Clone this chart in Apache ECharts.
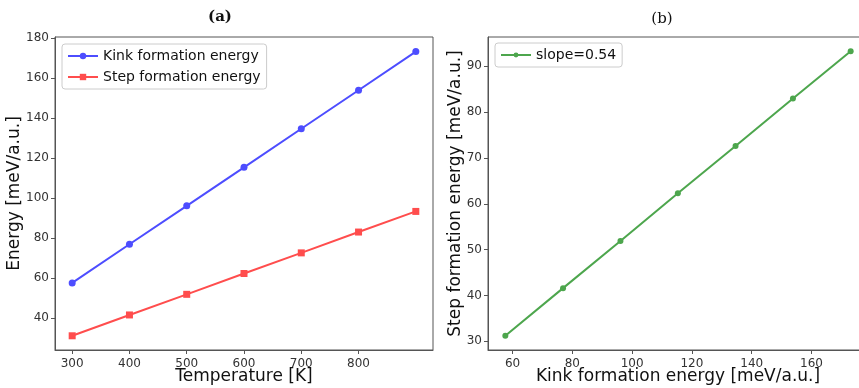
<!DOCTYPE html>
<html><head><meta charset="utf-8">
<script src="https://cdn.jsdelivr.net/npm/echarts@6/dist/echarts.min.js"></script>
<style>html,body{margin:0;padding:0;background:#fff}#c{width:859px;height:388px}</style>
</head><body><div id="c"></div>
<script>
const temperatures = [300, 400, 500, 600, 700, 800, 900];
const kinkEnergy = [57.6, 76.9, 96.1, 115.3, 134.6, 153.8, 173.1];
const stepEnergy = [31.2, 41.6, 51.9, 62.3, 72.6, 83.0, 93.3];
const leftXTicks = [300, 400, 500, 600, 700, 800];
const leftYTicks = [40, 60, 80, 100, 120, 140, 160, 180];
const rightXTicks = [60, 80, 100, 120, 140, 160];
const rightYTicks = [30, 40, 50, 60, 70, 80, 90];

const blue = 'rgb(77,77,255)', red = 'rgb(255,77,77)', green = 'rgb(77,166,77)';
const frame = '#555';
const tickFont = {fontFamily: 'DejaVu Sans', fontSize: 12, color: '#333'};
const nameFont = {fontFamily: 'DejaVu Sans', fontSize: 17, color: '#111'};

function axis(common) {
  return Object.assign({
    type: 'value', splitLine: {show: false}, nameMoveOverlap: false,
    axisLine: {show: true, onZero: false, lineStyle: {color: frame, width: 1}},
    axisTick: {show: true, length: 4, lineStyle: {color: frame}},
  }, common);
}

const chart = echarts.init(document.getElementById('c'), null, {renderer: 'canvas'});
chart.setOption({
  animation: false,
  backgroundColor: '#fff',
  title: [
    {text: '(a)', left: 215, top: 5, textAlign: 'center',
     textStyle: {fontFamily: 'DejaVu Serif', fontWeight: 'bold', fontSize: 15, color: '#111'}},
    {text: '(b)', left: 657, top: 7, textAlign: 'center',
     textStyle: {fontFamily: 'DejaVu Serif', fontWeight: 'normal', fontSize: 15, color: '#111'}}
  ],
  grid: [
    {left: 55, top: 37, width: 378, height: 313, show: true, borderColor: frame, borderWidth: 1, backgroundColor: 'transparent', containLabel: false, outerBoundsMode: 'none'},
    {left: 488, top: 37, width: 380, height: 313, show: true, borderColor: frame, borderWidth: 1, backgroundColor: 'transparent', containLabel: false, outerBoundsMode: 'none'}
  ],
  legend: [
    {orient: 'vertical', left: 62, top: 44, data: ['Kink formation energy', 'Step formation energy'],
     itemWidth: 30, itemHeight: 8, itemGap: 7, padding: [5, 6, 5, 5],
     borderColor: '#ccc', borderWidth: 1, borderRadius: 3, backgroundColor: '#fff',
     textStyle: {fontFamily: 'DejaVu Sans', fontSize: 14, color: '#111'}},
    {orient: 'vertical', left: 495, top: 43, data: ['slope=0.54'],
     itemWidth: 30, itemHeight: 6, padding: [5, 6, 5, 5],
     borderColor: '#ccc', borderWidth: 1, borderRadius: 3, backgroundColor: '#fff',
     textStyle: {fontFamily: 'DejaVu Sans', fontSize: 14, color: '#111'}}
  ],
  xAxis: [
    axis({gridIndex: 0, min: 270, max: 930, name: 'Temperature [K]', nameLocation: 'middle', nameGap: 18, nameTextStyle: nameFont,
      axisLabel: Object.assign({customValues: leftXTicks, margin: 8}, tickFont), axisTick: {customValues: leftXTicks, length: 4, lineStyle: {color: frame}}}),
    axis({gridIndex: 1, min: 51.8, max: 178.9, name: 'Kink formation energy [meV/a.u.]', nameLocation: 'middle', nameGap: 18, nameTextStyle: nameFont,
      axisLabel: Object.assign({customValues: rightXTicks, margin: 8}, tickFont), axisTick: {customValues: rightXTicks, length: 4, lineStyle: {color: frame}}})
  ],
  yAxis: [
    axis({gridIndex: 0, min: 24.1, max: 180.4, name: 'Energy [meV/a.u.]', nameLocation: 'middle', nameGap: 32, nameTextStyle: nameFont,
      axisLabel: Object.assign({customValues: leftYTicks, margin: 6}, tickFont), axisTick: {customValues: leftYTicks, length: 4, lineStyle: {color: frame}}}),
    axis({gridIndex: 1, min: 28.1, max: 96.4, name: 'Step formation energy [meV/a.u.]', nameLocation: 'middle', nameGap: 24, nameTextStyle: nameFont,
      axisLabel: Object.assign({customValues: rightYTicks, margin: 6}, tickFont), axisTick: {customValues: rightYTicks, length: 4, lineStyle: {color: frame}}})
  ],
  series: [
    {name: 'Kink formation energy', type: 'line', xAxisIndex: 0, yAxisIndex: 0,
     data: temperatures.map((t, i) => [t, kinkEnergy[i]]),
     symbol: 'circle', symbolSize: 7, lineStyle: {color: blue, width: 2}, itemStyle: {color: blue}},
    {name: 'Step formation energy', type: 'line', xAxisIndex: 0, yAxisIndex: 0,
     data: temperatures.map((t, i) => [t, stepEnergy[i]]),
     symbol: 'rect', symbolSize: 7, lineStyle: {color: red, width: 2}, itemStyle: {color: red}},
    {name: 'slope=0.54', type: 'line', xAxisIndex: 1, yAxisIndex: 1,
     data: kinkEnergy.map((k, i) => [k, stepEnergy[i]]),
     symbol: 'circle', symbolSize: 6, lineStyle: {color: green, width: 2}, itemStyle: {color: green}}
  ]
});
</script></body></html>
